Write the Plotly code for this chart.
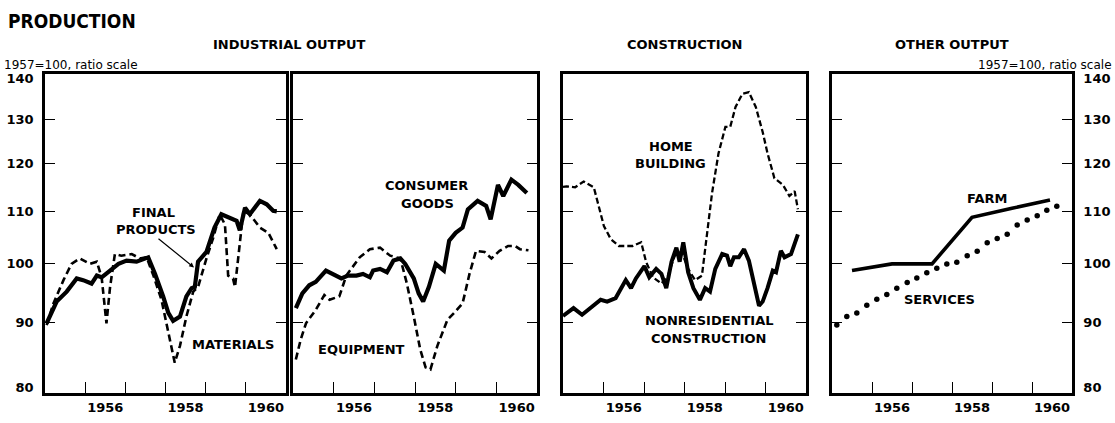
import math
import plotly.graph_objects as go

W, H = 1115, 423

# ---------------- data (1957=100, ratio scale) ----------------
fp_x = [1955.04, 1955.12, 1955.29, 1955.54, 1955.79, 1955.95, 1956.16, 1956.29, 1956.41, 1956.62,
        1956.83, 1957.03, 1957.28, 1957.57, 1957.74, 1957.94, 1958.07, 1958.19, 1958.36, 1958.52,
        1958.65, 1958.73, 1958.81, 1959.02, 1959.22, 1959.39, 1959.6, 1959.77, 1959.85, 1959.98,
        1960.1, 1960.35, 1960.52, 1960.68, 1960.77]
fp_y = [89.8, 90.9, 93.4, 95.1, 97.4, 97.1, 96.5, 97.9, 97.6, 98.8,
        100.0, 100.6, 100.4, 101.2, 98.2, 94.3, 91.5, 90.2, 90.9, 94.3,
        95.7, 95.9, 100.4, 102.2, 106.8, 109.4, 108.6, 108.1, 106.3, 110.7,
        109.4, 112.1, 111.4, 110.1, 110.0]

mat_x = [1955.04, 1955.21, 1955.46, 1955.66, 1955.87, 1956.12, 1956.29, 1956.41, 1956.53, 1956.62,
         1956.74, 1956.9, 1957.16, 1957.36, 1957.53, 1957.7, 1957.9, 1958.07, 1958.23, 1958.36,
         1958.52, 1958.69, 1958.81, 1959.02, 1959.19, 1959.35, 1959.48, 1959.56, 1959.68, 1959.73,
         1959.85, 1959.94, 1960.1, 1960.35, 1960.56, 1960.77]
mat_y = [89.5, 93.1, 97.1, 100.0, 101.0, 100.0, 100.4, 97.6, 89.8, 95.9,
         101.8, 101.5, 101.8, 101.0, 101.2, 97.9, 93.7, 88.2, 83.6, 86.2,
         90.9, 95.1, 95.9, 101.0, 104.9, 109.4, 107.4, 97.9, 97.4, 95.9,
         104.3, 110.1, 109.4, 106.8, 105.8, 102.7]

cg_x = [1955.07, 1955.23, 1955.4, 1955.56, 1955.81, 1955.98, 1956.19, 1956.35, 1956.56, 1956.72,
        1956.89, 1956.97, 1957.14, 1957.31, 1957.47, 1957.64, 1957.76, 1957.97, 1958.09, 1958.2,
        1958.34, 1958.51, 1958.71, 1958.84, 1959.0, 1959.17, 1959.3, 1959.54, 1959.75, 1959.86,
        1960.04, 1960.17, 1960.37, 1960.54, 1960.75]
cg_y = [92.3, 94.8, 96.2, 96.8, 98.8, 98.2, 97.4, 97.9, 97.9, 98.2,
        97.6, 98.8, 99.1, 98.5, 100.6, 101.0, 100.0, 97.4, 94.8, 93.4,
        95.9, 100.0, 98.8, 104.3, 105.8, 106.8, 110.4, 112.1, 111.1, 108.4,
        115.4, 113.1, 116.5, 115.4, 113.7]

eq_x = [1955.07, 1955.19, 1955.32, 1955.56, 1955.77, 1955.9, 1956.14, 1956.31, 1956.64, 1956.89,
        1957.14, 1957.39, 1957.64, 1957.8, 1957.97, 1958.13, 1958.26, 1958.38, 1958.55, 1958.8,
        1958.96, 1959.17, 1959.34, 1959.5, 1959.71, 1959.88, 1960.08, 1960.29, 1960.46, 1960.58,
        1960.79]
eq_y = [84.1, 87.2, 89.8, 92.0, 94.5, 93.7, 94.3, 97.9, 101.2, 102.7,
        103.0, 101.5, 101.0, 96.5, 90.9, 85.6, 82.9, 82.6, 86.2, 90.4,
        91.5, 93.1, 98.2, 102.4, 102.2, 101.0, 102.4, 103.3, 103.3, 102.7,
        102.5]

hb_x = [1955.0, 1955.09, 1955.3, 1955.51, 1955.76, 1955.88, 1956.01, 1956.18, 1956.38, 1956.72,
        1956.93, 1957.05, 1957.22, 1957.43, 1957.59, 1957.76, 1957.93, 1958.09, 1958.26, 1958.43,
        1958.55, 1958.68, 1958.84, 1959.01, 1959.13, 1959.26, 1959.43, 1959.59, 1959.76, 1959.93,
        1960.05, 1960.22, 1960.43, 1960.59, 1960.72, 1960.8]
hb_y = [115.0, 115.1, 114.9, 116.1, 114.9, 111.1, 107.1, 104.6, 103.3, 103.3,
        104.0, 100.4, 97.6, 96.5, 97.9, 101.5, 102.2, 99.1, 97.1, 97.9,
        105.2, 113.7, 122.2, 128.2, 128.2, 132.9, 136.1, 136.5, 132.9, 127.0,
        122.2, 116.8, 115.4, 113.1, 114.1, 110.4]

nr_x = [1955.0, 1955.09, 1955.26, 1955.47, 1955.68, 1955.93, 1956.09, 1956.3, 1956.55, 1956.68,
        1956.8, 1957.01, 1957.13, 1957.3, 1957.43, 1957.55, 1957.68, 1957.8, 1957.88, 1957.97,
        1958.09, 1958.22, 1958.38, 1958.51, 1958.63, 1958.76, 1958.93, 1959.05, 1959.13, 1959.22,
        1959.34, 1959.47, 1959.59, 1959.72, 1959.84, 1959.93, 1960.05, 1960.18, 1960.26, 1960.38,
        1960.47, 1960.63, 1960.8]
nr_y = [91.0, 91.5, 92.3, 91.2, 92.3, 93.7, 93.4, 94.0, 97.1, 95.7,
        97.4, 99.6, 97.6, 99.1, 98.2, 95.7, 100.4, 103.0, 100.4, 104.0,
        98.5, 95.7, 93.7, 95.7, 95.1, 99.1, 101.8, 101.5, 99.6, 101.2,
        101.2, 102.7, 100.6, 96.2, 92.7, 93.4, 95.7, 98.8, 98.5, 102.4,
        101.2, 101.8, 105.5]

farm_x = [1955.5, 1956.5, 1957.5, 1958.5, 1959.5, 1960.45]
farm_y = [98.8, 100.0, 100.0, 108.8, 110.6, 112.3]

sv_x = [1955.12, 1955.37, 1955.62, 1955.87, 1956.12, 1956.37, 1956.62, 1956.88, 1957.12, 1957.37,
        1957.62, 1957.87, 1958.12, 1958.38, 1958.63, 1958.88, 1959.13, 1959.38, 1959.63, 1959.88,
        1960.13, 1960.37, 1960.62]
sv_y = [89.5, 90.9, 91.5, 92.8, 93.8, 94.6, 95.7, 96.7, 97.5, 98.4,
        99.2, 100.0, 100.3, 101.5, 102.3, 103.9, 104.7, 105.5, 107.3, 108.3,
        109.1, 110.2, 111.0]

y_ticks = [80, 90, 100, 110, 120, 130, 140]
y_minor = [90, 100, 110, 120, 130]
year_marks = [1956, 1957, 1958, 1959, 1960]
year_label_pos = [1956.5, 1958.5, 1960.5]
year_labels = ["1956", "1958", "1960"]

# ---------------- layout helpers ----------------
BOLD = "DejaVu Sans"
panels_px = [(45, 286), (293, 537), (563, 806), (832, 1072)]
top_px, bot_px = 72, 394
ydom = [1 - bot_px / H, 1 - top_px / H]

fig = go.Figure()

def add_line(x, y, idx, width, dash="solid"):
    fig.add_trace(go.Scatter(x=x, y=y, mode="lines", xaxis=f"x{idx}" if idx > 1 else "x",
                             yaxis=f"y{idx}" if idx > 1 else "y",
                             line=dict(color="black", width=width, dash=dash),
                             showlegend=False, hoverinfo="skip"))

add_line(mat_x, mat_y, 1, 2.6, "7px,4px")
add_line(fp_x, fp_y, 1, 4.2)
add_line(eq_x, eq_y, 2, 2.6, "7px,4px")
add_line(cg_x, cg_y, 2, 4.2)
add_line(hb_x, hb_y, 3, 2.3, "6px,3px")
add_line(nr_x, nr_y, 3, 4.0)
add_line(farm_x, farm_y, 4, 3.6)
fig.add_trace(go.Scatter(x=sv_x, y=sv_y, mode="markers", xaxis="x4", yaxis="y4",
                         marker=dict(color="black", size=5.5), showlegend=False, hoverinfo="skip"))

layout = dict(width=W, height=H, margin=dict(l=0, r=0, t=0, b=0),
              paper_bgcolor="white", plot_bgcolor="white", showlegend=False)

yrange = [math.log10(79.1), math.log10(141.0)]
for i, (l, r) in enumerate(panels_px, start=1):
    xk = "xaxis" if i == 1 else f"xaxis{i}"
    yk = "yaxis" if i == 1 else f"yaxis{i}"
    layout[xk] = dict(domain=[l / W, r / W], range=[1955, 1961], anchor="y" if i == 1 else f"y{i}",
                      showgrid=False, zeroline=False, showline=True, mirror=True,
                      linecolor="black", linewidth=2.5,
                      tickmode="array", tickvals=year_label_pos, ticktext=year_labels, ticks="",
                      tickfont=dict(family=BOLD, size=13, color="black", weight="bold"),
                      minor=dict(tickmode="array", tickvals=year_marks, ticks="inside",
                                 ticklen=12, tickwidth=1, tickcolor="black", showgrid=False))
    layout[yk] = dict(domain=ydom, type="log", range=yrange, anchor="x" if i == 1 else f"x{i}",
                      showgrid=False, zeroline=False, showline=True, mirror="ticks",
                      linecolor="black", linewidth=2.5,
                      tickmode="array", tickvals=y_ticks, ticktext=[str(v) for v in y_ticks],
                      ticks="", showticklabels=(i in (1, 4)), side="right" if i == 4 else "left",
                      tickfont=dict(family=BOLD, size=13, color="black", weight="bold"),
                      ticklabelstandoff=6,
                      minor=dict(tickmode="array", tickvals=y_minor, ticks="inside",
                                 ticklen=10, tickwidth=1, tickcolor="black", showgrid=False))

def px(x):
    return x / W

def py(y):
    return 1 - y / H

ann = []

def txt(x, y, s, size=13, family=BOLD, weight="bold", xanchor="center"):
    ann.append(dict(x=px(x), y=py(y), xref="paper", yref="paper", text=s, showarrow=False,
                    xanchor=xanchor, yanchor="middle",
                    font=dict(family=family, size=size, color="black", weight=weight)))

# titles
ann.append(dict(x=px(6), y=py(18), xref="paper", yref="paper", text="PRODUCTION", showarrow=False,
                xanchor="left", yanchor="middle",
                font=dict(family="Liberation Sans Narrow, DejaVu Sans Condensed, DejaVu Sans",
                          size=19, color="black", weight="bold")))
txt(290, 42, "INDUSTRIAL OUTPUT", size=13)
txt(684, 42, "CONSTRUCTION", size=13)
txt(952, 42, "OTHER OUTPUT", size=13)
txt(2, 63, "1957=100, ratio scale", size=12, family="DejaVu Sans", weight="normal", xanchor="left")
txt(1114, 63, "1957=100, ratio scale", size=12, family="DejaVu Sans", weight="normal", xanchor="right")

# series labels
txt(153, 212, "FINAL", size=13)
txt(156, 229, "PRODUCTS", size=13)
txt(233, 345, "MATERIALS", size=13)
txt(426, 184, "CONSUMER", size=13)
txt(427, 202, "GOODS", size=13)
txt(361, 350, "EQUIPMENT", size=13)
txt(671, 145, "HOME", size=13)
txt(670, 162, "BUILDING", size=13)
txt(709, 321, "NONRESIDENTIAL", size=13)
txt(708, 339, "CONSTRUCTION", size=13)
txt(987, 197, "FARM", size=13)
txt(939, 299, "SERVICES", size=13)

# pointer for FINAL PRODUCTS
ann.append(dict(x=px(194), y=py(267), xref="paper", yref="paper", text="", showarrow=True,
                ax=-37, ay=-30, arrowhead=2, arrowsize=0.8, arrowwidth=1.2, arrowcolor="black"))

layout["annotations"] = ann
fig.update_layout(**layout)
fig.write_html("out.html", config={"displayModeBar": False},
               post_script="document.body.style.margin='0';")
